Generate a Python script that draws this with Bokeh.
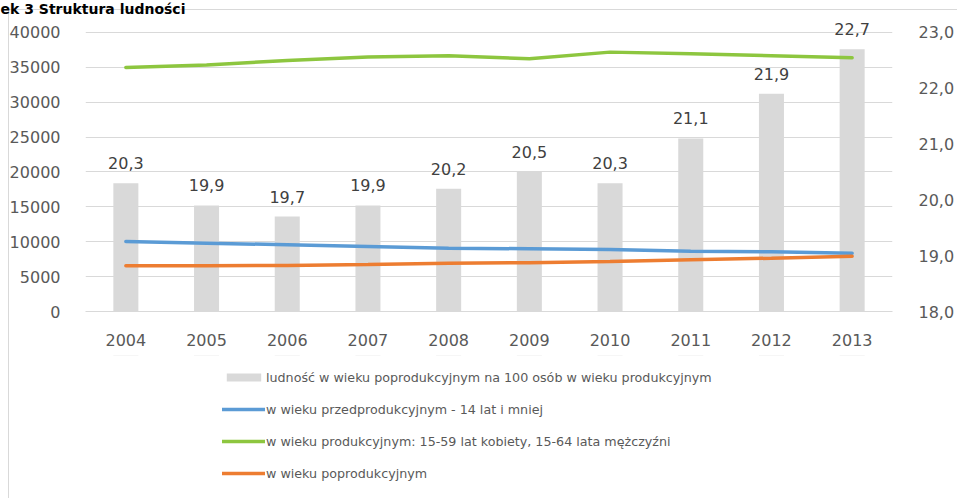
from bokeh.plotting import figure
from bokeh.layouts import column
from bokeh.models import (Range1d, LinearAxis, FixedTicker, CustomJSTickFormatter,
                          Legend, LegendItem)
from bokeh.core.properties import value
from bokeh.embed import file_html
from bokeh.resources import INLINE

title_text = "ek 3 Struktura ludności"
years = ["2004", "2005", "2006", "2007", "2008", "2009", "2010", "2011", "2012", "2013"]
ratio = [20.3, 19.9, 19.7, 19.9, 20.2, 20.5, 20.3, 21.1, 21.9, 22.7]
pre_prod = [10040, 9800, 9560, 9320, 9080, 8990, 8890, 8650, 8560, 8360]
prod = [34990, 35330, 35990, 36470, 36670, 36230, 37180, 36950, 36660, 36370]
post_prod = [6550, 6550, 6600, 6740, 6930, 7000, 7170, 7410, 7640, 7930]
left_ticks = [0, 5000, 10000, 15000, 20000, 25000, 30000, 35000, 40000]
right_ticks = [18, 19, 20, 21, 22, 23]
legend_labels = [
    "ludność w wieku poprodukcyjnym na 100 osób w wieku produkcyjnym",
    "w wieku przedprodukcyjnym - 14 lat i mniej",
    "w wieku produkcyjnym: 15-59 lat kobiety, 15-64 lata mężczyźni",
    "w wieku poprodukcyjnym",
]
ratio_labels = [f"{v:.1f}".replace(".", ",") for v in ratio]

FONT = "DejaVu Sans"
GREY = "#595959"
BAR_C = "#d9d9d9"
PRE_C = "#5b9bd5"
PROD_C = "#8dc63f"
POST_C = "#ed7d31"

W = 957
H_MAIN = 355
H_LEG = 498 - H_MAIN

# ---------------- main chart ----------------
p = figure(x_range=years, y_range=Range1d(0, 42000), width=W, height=H_MAIN,
           output_backend="svg", toolbar_location=None,
           min_border_left=85, min_border_right=62, min_border_top=18,
           min_border_bottom=H_MAIN - 311)
p.extra_y_ranges = {"right": Range1d(18, 23.25)}
p.outline_line_color = None
p.background_fill_color = "white"
p.border_fill_color = None

p.title.text = title_text
p.title.align = "left"
p.title.offset = -85
p.title.standoff = 0
p.title.vertical_align = "top"
p.title.text_font = FONT
p.title.text_font_style = "bold"
p.title.text_font_size = "14px"
p.title.text_color = "black"

p.xgrid.visible = False
p.ygrid.grid_line_color = "#d9d9d9"
p.ygrid.grid_line_width = 1

yl = p.yaxis[0]
yl.ticker = FixedTicker(ticks=left_ticks)
yl.axis_line_color = None
yl.major_tick_line_color = None
yl.minor_tick_line_color = None
yl.major_label_standoff = 19
yl.major_label_text_font = FONT
yl.major_label_text_font_size = "16px"
yl.major_label_text_color = GREY

yr = LinearAxis(y_range_name="right", ticker=FixedTicker(ticks=right_ticks),
                formatter=CustomJSTickFormatter(code="return tick.toFixed(1).replace('.', ',');"))
yr.axis_line_color = None
yr.major_tick_line_color = None
yr.minor_tick_line_color = None
yr.major_label_standoff = 20
yr.major_label_text_font = FONT
yr.major_label_text_font_size = "16px"
yr.major_label_text_color = GREY
p.add_layout(yr, "right")

xa = p.xaxis[0]
xa.axis_line_color = "#d9d9d9"
xa.major_tick_line_color = None
xa.minor_tick_line_color = None
xa.major_label_standoff = 16
xa.major_label_text_font = FONT
xa.major_label_text_font_size = "16px"
xa.major_label_text_color = GREY

p.vbar(x=years, top=ratio, bottom=18, width=0.31, y_range_name="right",
       fill_color=BAR_C, line_color=None)
p.text(x=years, y=ratio, text=ratio_labels, y_range_name="right",
       text_align="center", text_baseline="middle", y_offset=-20,
       text_font=value(FONT), text_font_size="16px", text_color="#404040")

p.line(years, pre_prod, line_color=PRE_C, line_width=3.5, line_cap="round")
p.line(years, prod, line_color=PROD_C, line_width=3.5, line_cap="round")
p.line(years, post_prod, line_color=POST_C, line_width=3.5, line_cap="round")

# ---------------- legend panel (same series, drawn out of view; only the key shows) ----------------
lg = figure(width=W, height=H_LEG, x_range=years, y_range=Range1d(-2, -1),
            output_backend="svg", toolbar_location=None,
            x_axis_type=None, y_axis_type=None,
            min_border_left=85, min_border_right=62, min_border_top=0, min_border_bottom=0)
lg.outline_line_color = None
lg.background_fill_color = None
lg.border_fill_color = None
lg.xgrid.visible = False
lg.ygrid.visible = False

k_bar = lg.vbar(x=years, top=ratio, bottom=18, width=0.31, fill_color=BAR_C, line_color=None)
k_pre = lg.line(years, pre_prod, line_color=PRE_C, line_width=3.5, line_cap="round")
k_prod = lg.line(years, prod, line_color=PROD_C, line_width=3.5, line_cap="round")
k_post = lg.line(years, post_prod, line_color=POST_C, line_width=3.5, line_cap="round")

legend = Legend(items=[
    LegendItem(label=legend_labels[0], renderers=[k_bar]),
    LegendItem(label=legend_labels[1], renderers=[k_pre]),
    LegendItem(label=legend_labels[2], renderers=[k_prod]),
    LegendItem(label=legend_labels[3], renderers=[k_post]),
], location=(137, 15), orientation="vertical", padding=0, margin=0, spacing=12,
    glyph_width=43, glyph_height=10, label_height=20, label_standoff=1,
    label_text_font=FONT, label_text_font_size="12.7px", label_text_color=GREY,
    border_line_color=None, background_fill_alpha=0)
lg.add_layout(legend)

border_css = {
    "background-color": "white",
    "background-image": "linear-gradient(#d9d9d9, #d9d9d9), linear-gradient(#d9d9d9, #d9d9d9)",
    "background-size": "100% 1px, 1px 100%",
    "background-position": "8px 9px, 8px 9px",
    "background-repeat": "no-repeat",
}
layout = column(p, lg, spacing=0, styles=border_css)

open("out.html", "w").write(file_html(layout, INLINE))
